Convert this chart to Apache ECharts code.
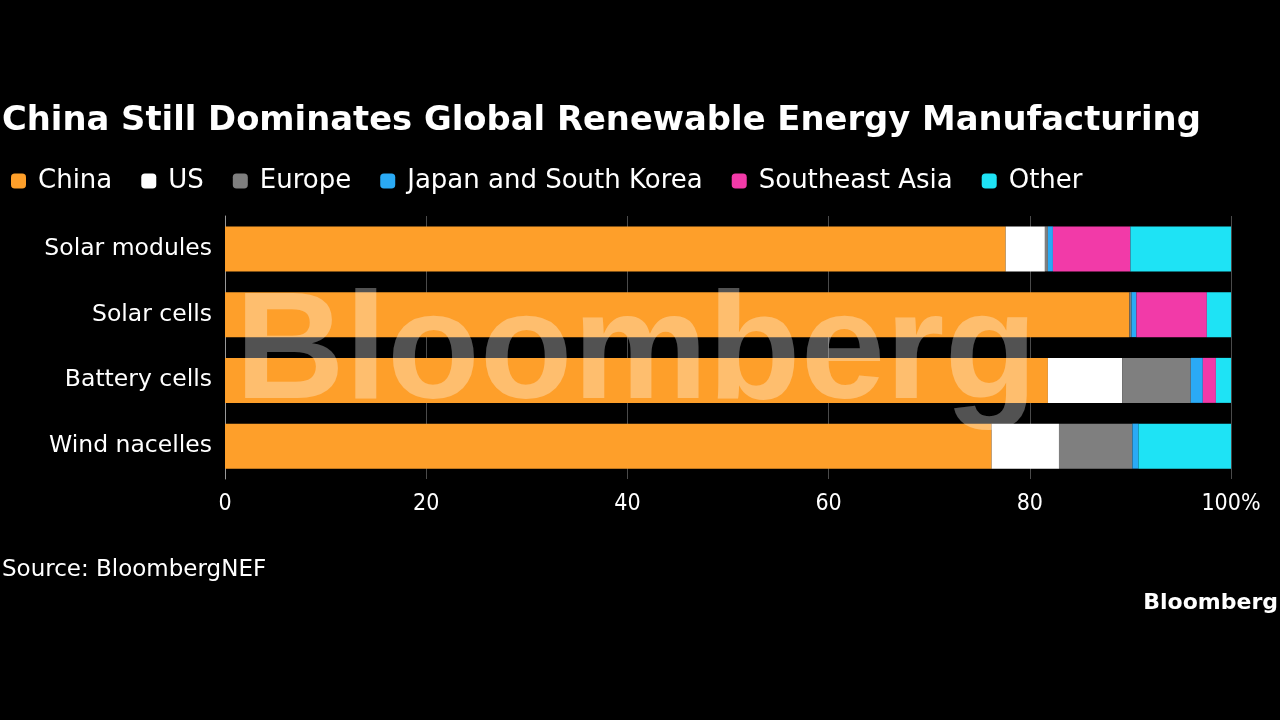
<!DOCTYPE html>
<html>
<head>
    <meta charset="UTF-8">
    <title>China Still Dominates Global Renewable Energy Manufacturing</title>
    <script type="text/javascript" src="https://cdn.jsdelivr.net/npm/echarts@6/dist/echarts.min.js"></script>
</head>
<body style="margin: 0;padding: 0;background: #000;">
    <div id="container" style="width:1280px; height:720px;"></div>
    <script>
        // data, shares in %
        var categories = ['Solar modules', 'Solar cells', 'Battery cells', 'Wind nacelles'];
        var regions = ['China', 'US', 'Europe', 'Japan and South Korea', 'Southeast Asia', 'Other'];
        var china     = [77.6, 89.9, 81.8, 76.2];
        var us        = [3.9, 0, 7.4, 6.7];
        var europe    = [0.3, 0.2, 6.8, 7.3];
        var japanKor  = [0.5, 0.5, 1.2, 0.6];
        var seAsia    = [7.7, 7.0, 1.3, 0];
        var other     = [10.0, 2.4, 1.5, 9.2];
        var xTicks = [0, 20, 40, 60, 80, 100];

        var colors = ['#fe9f2a', '#ffffff', '#7f7f7f', '#2aaaf5', '#f23aa8', '#1ee3f5'];
        var values = [china, us, europe, japanKor, seAsia, other];
        var font = '"DejaVu Sans", sans-serif';
        var narrow = '"DejaVu Sans Condensed", "DejaVu Sans", sans-serif';

        var chart = echarts.init(document.getElementById('container'), null, { renderer: 'canvas' });

        var series = regions.map(function (name, i) {
            return {
                name: name,
                type: 'bar',
                stack: 'total',
                barWidth: 45,
                itemStyle: { color: colors[i] },
                data: values[i]
            };
        });

        chart.setOption({
            backgroundColor: '#000',
            animation: false,
            color: colors,
            title: {
                text: 'China Still Dominates Global Renewable Energy Manufacturing',
                left: -3,
                top: 99,
                textStyle: { color: '#fff', fontSize: 33.8, fontWeight: 'bold', fontFamily: font }
            },
            legend: {
                data: regions,
                left: 6,
                top: 163,
                itemWidth: 15,
                itemHeight: 15,
                itemGap: 29,
                icon: 'roundRect',
                textStyle: { color: '#fff', fontSize: 26, fontFamily: font, padding: [0, 0, 0, 7] }
            },
            grid: { left: 225, right: 49, top: 216, height: 263, containLabel: false },
            xAxis: {
                type: 'value',
                min: 0,
                max: 100,
                interval: 20,
                axisLine: { show: false },
                axisTick: { show: false },
                splitLine: { show: true, lineStyle: { color: '#4a4a4a', width: 1 } },
                axisLabel: {
                    color: '#fff',
                    fontSize: 23,
                    fontFamily: narrow,
                    margin: 14,
                    formatter: function (v) {
                        return xTicks.indexOf(v) < 0 ? '' : (v === 100 ? '100%' : String(v));
                    }
                }
            },
            yAxis: {
                type: 'category',
                data: categories,
                inverse: true,
                axisLine: { show: true, lineStyle: { color: '#999' } },
                axisTick: { show: false },
                axisLabel: { color: '#fff', fontSize: 23.5, fontFamily: font, margin: 13 }
            },
            graphic: [{
                type: 'text',
                left: 235,
                top: 280,
                z: 100,
                style: {
                    text: 'Bloomberg',
                    fill: 'rgba(255,255,255,0.32)',
                    font: 'bold 152px "Liberation Sans", Arial, sans-serif'
                }
            }, {
                type: 'text',
                left: 2,
                top: 559,
                style: { text: 'Source: BloombergNEF', fill: '#fff', font: '23px ' + font }
            }, {
                type: 'text',
                right: 2,
                top: 592,
                style: { text: 'Bloomberg', fill: '#fff', font: 'bold 22px ' + font }
            }],
            series: series
        });
    </script>
</body>
</html>
